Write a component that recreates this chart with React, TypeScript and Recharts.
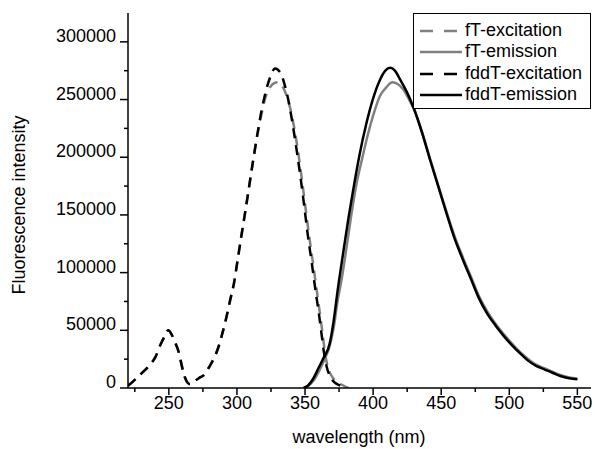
import React from 'react';
import { LineChart, Line, XAxis, YAxis, Legend } from 'recharts';

// ---- data (wavelength nm / fluorescence intensity) ----
const fTExWavelength = [220, 224, 228, 232, 236, 240, 244, 247, 249.5, 252, 254, 257, 259, 261, 263, 265, 267, 269, 272, 275.5, 280, 283, 286, 289, 292, 295, 298, 300, 303, 306, 309, 312, 315, 318, 321, 324, 327, 330, 333, 336, 339, 342, 345, 348, 351, 353, 356, 359, 361, 363, 365, 367, 369, 371, 374, 377, 380, 382];
const fTExIntensity = [2000, 6000, 10500, 15000, 20000, 26500, 38000, 45000, 50000, 46500, 41000, 32000, 22000, 12000, 6000, 3500, 4000, 6000, 8500, 11000, 19000, 25500, 34000, 46000, 60000, 76000, 92000, 107000, 130000, 152000, 175000, 198000, 219000, 237000, 252000, 260000, 264000, 265000, 262000, 255000, 243000, 226000, 204000, 178000, 150000, 132000, 107000, 81000, 64000, 46000, 28000, 17000, 11500, 8000, 5000, 2800, 1000, 0];

const fTEmWavelength = [349, 352, 356, 360, 364, 368, 371, 374, 377, 380, 384, 388, 392, 396, 400, 405, 410, 414, 418, 422, 426, 430, 436, 442, 448, 454, 460, 466, 472, 478, 484, 490, 496, 502, 508, 514, 520, 526, 532, 538, 544, 550];
const fTEmIntensity = [0, 1500, 6000, 14000, 24000, 36000, 52000, 76000, 95000, 118000, 150000, 178000, 199000, 219000, 236000, 253000, 261000, 265000, 263500, 259000, 251000, 241500, 221500, 198000, 175000, 152500, 131000, 113000, 96000, 79000, 66000, 55500, 46500, 38500, 31000, 25000, 20000, 17000, 14000, 11000, 9200, 8000];

const fddTExWavelength = [220, 224, 228, 232, 236, 240, 244, 247, 249.5, 252, 254, 257, 259, 261, 263, 265, 267, 269, 272, 275.5, 280, 283, 286, 289, 292, 295, 298, 300, 303, 306, 309, 312, 315, 318, 321, 324, 328, 332, 335, 338, 341, 344, 347, 350, 352, 355, 358, 360, 362, 364, 366, 368, 370, 372, 375, 378];
const fddTExIntensity = [2000, 6000, 10500, 15000, 20000, 26500, 38000, 45000, 50000, 46500, 41000, 32000, 22000, 12000, 6000, 3500, 4000, 6000, 8500, 11000, 19000, 25500, 34000, 46000, 60000, 76000, 92000, 107000, 130000, 152000, 175000, 198000, 220000, 240000, 256000, 268000, 277000, 273000, 263000, 248000, 228000, 205000, 180000, 152000, 133000, 108000, 82000, 66000, 48000, 30000, 18000, 11000, 7000, 4500, 2500, 1000];

const fddTEmWavelength = [349, 352, 356, 360, 364, 368, 371, 374, 378, 382, 386, 390, 395, 400, 405, 409, 412.5, 416, 420, 425, 430, 436, 442, 448, 454, 460, 466, 472, 478, 484, 490, 496, 502, 508, 514, 520, 526, 532, 538, 544, 550];
const fddTEmIntensity = [0, 2000, 8000, 17500, 27000, 38000, 58000, 85000, 117000, 148000, 176000, 202000, 229000, 251000, 267000, 275000, 277500, 275000, 267000, 256000, 242000, 221000, 197000, 174000, 151000, 129000, 111000, 94000, 77000, 64000, 54000, 45000, 37000, 30000, 23500, 19000, 16000, 13000, 10200, 8500, 7500];

const xTicks = [225, 250, 275, 300, 325, 350, 375, 400, 425, 450, 475, 500, 525, 550];
const yTicks = [0, 25000, 50000, 75000, 100000, 125000, 150000, 175000, 200000, 225000, 250000, 275000, 300000];

const seriesNames = ['fT-excitation', 'fT-emission', 'fddT-excitation', 'fddT-emission'];
const seriesColors = ['#808080', '#808080', '#000000', '#000000'];
const seriesDashed = [true, false, true, false];

const toRows = (xs: number[], ys: number[]) => xs.map((x, i) => ({ x, y: ys[i] }));
const seriesData = [
  toRows(fTExWavelength, fTExIntensity),
  toRows(fTEmWavelength, fTEmIntensity),
  toRows(fddTExWavelength, fddTExIntensity),
  toRows(fddTEmWavelength, fddTEmIntensity),
];

const FONT = '"Liberation Sans", Arial, sans-serif';

const XTick = (props: any) => {
  const { x, y, payload } = props;
  const v = payload.value;
  const major = v % 50 === 0;
  return (
    <g>
      <line x1={x} x2={x} y1={y} y2={y + (major ? 7 : 4)} stroke="#000" strokeWidth={1.5} />
      {major && (
        <text x={x} y={y + 21} textAnchor="middle" fontSize={18} fontFamily={FONT} fill="#000">
          {v}
        </text>
      )}
    </g>
  );
};

const YTick = (props: any) => {
  const { x, y, payload } = props;
  const v = payload.value;
  const major = v % 50000 === 0;
  return (
    <g>
      <line x1={x} x2={x - (major ? 8 : 4)} y1={y} y2={y} stroke="#000" strokeWidth={1.5} />
      {major && (
        <text x={x - 12} y={y} textAnchor="end" fontSize={18} fontFamily={FONT} fill="#000">
          {v}
        </text>
      )}
    </g>
  );
};

const TopTick = (props: any) => {
  const { x, y, payload } = props;
  const major = payload.value % 50 === 0;
  return <line x1={x} x2={x} y1={y} y2={y + (major ? 5 : 3)} stroke="#000" strokeWidth={1} />;
};

const RightTick = (props: any) => {
  const { x, y, payload } = props;
  const major = payload.value % 50000 === 0;
  return <line x1={x} x2={x - (major ? 5 : 3)} y1={y} y2={y} stroke="#000" strokeWidth={1} />;
};

const LegendBox = () => (
  <div
    style={{
      position: 'relative',
      width: 178,
      height: 96,
      boxSizing: 'border-box',
      border: '1px solid #000',
      background: '#fff',
      fontFamily: FONT,
      fontSize: 18,
      color: '#000',
    }}
  >
    {seriesNames.map((name, i) => (
      <div
        key={name}
        style={{
          position: 'absolute',
          left: 0,
          top: 6 + i * 21.3,
          height: 21.3,
          display: 'flex',
          alignItems: 'center',
          whiteSpace: 'nowrap',
          lineHeight: '21px',
        }}
      >
        <svg width={51} height={21} style={{ display: 'block' }}>
          <line
            x1={6}
            x2={48}
            y1={11}
            y2={11}
            stroke={seriesColors[i]}
            strokeWidth={2.5}
            strokeDasharray={seriesDashed[i] ? '13 11' : undefined}
          />
        </svg>
        <span>{name}</span>
      </div>
    ))}
  </div>
);

export default function App() {
  return (
    <div style={{ position: 'absolute', left: 0, top: 0, width: 595, height: 449, background: '#fff' }}>
      <LineChart width={595} height={449} margin={{ top: 13, right: 4, left: 0, bottom: 0 }}>
        <XAxis
          xAxisId={0}
          dataKey="x"
          type="number"
          domain={[220, 560]}
          allowDataOverflow
          ticks={xTicks}
          interval={0}
          tickSize={0}
          tickMargin={0}
          tick={<XTick />}
          height={61}
          stroke="#000"
          strokeWidth={1.5}
          label={{
            value: 'wavelength (nm)',
            position: 'insideBottom',
            content: () => (
              <text x={359} y={443} textAnchor="middle" fontSize={18} fontFamily={FONT} fill="#000">
                wavelength (nm)
              </text>
            ),
          }}
        />
        <XAxis
          xAxisId="top"
          orientation="top"
          dataKey="x"
          type="number"
          domain={[220, 560]}
          allowDataOverflow
          ticks={xTicks}
          interval={0}
          tickSize={0}
          tickMargin={0}
          tick={<TopTick />}
          height={0}
          stroke="#000"
          strokeWidth={1.5}
        />
        <YAxis
          yAxisId={0}
          type="number"
          domain={[0, 325000]}
          allowDataOverflow
          ticks={yTicks}
          interval={0}
          tickSize={0}
          tickMargin={0}
          tick={<YTick />}
          width={128}
          stroke="#000"
          strokeWidth={1.5}
          label={{
            value: 'Fluorescence intensity',
            content: () => (
              <text
                x={25}
                y={205}
                transform="rotate(-90 25 205)"
                textAnchor="middle"
                fontSize={18}
                fontFamily={FONT}
                fill="#000"
              >
                Fluorescence intensity
              </text>
            ),
          }}
        />
        <YAxis
          yAxisId="right"
          orientation="right"
          type="number"
          domain={[0, 325000]}
          allowDataOverflow
          ticks={yTicks}
          interval={0}
          tickSize={0}
          tickMargin={0}
          tick={<RightTick />}
          width={0}
          stroke="#000"
          strokeWidth={1.5}
        />
        {seriesData.map((d, i) => (
          <Line
            key={seriesNames[i]}
            xAxisId={0}
            yAxisId={0}
            data={d}
            dataKey="y"
            name={seriesNames[i]}
            type="monotone"
            stroke={seriesColors[i]}
            strokeWidth={2.5}
            strokeDasharray={seriesDashed[i] ? '10 7' : undefined}
            dot={false}
            activeDot={false}
            isAnimationActive={false}
          />
        ))}
        <Legend
          layout="vertical"
          align="center"
          verticalAlign="middle"
          wrapperStyle={{ left: 413, top: 13, width: 178, height: 96, margin: 0 }}
          content={() => <LegendBox />}
        />
      </LineChart>
    </div>
  );
}
